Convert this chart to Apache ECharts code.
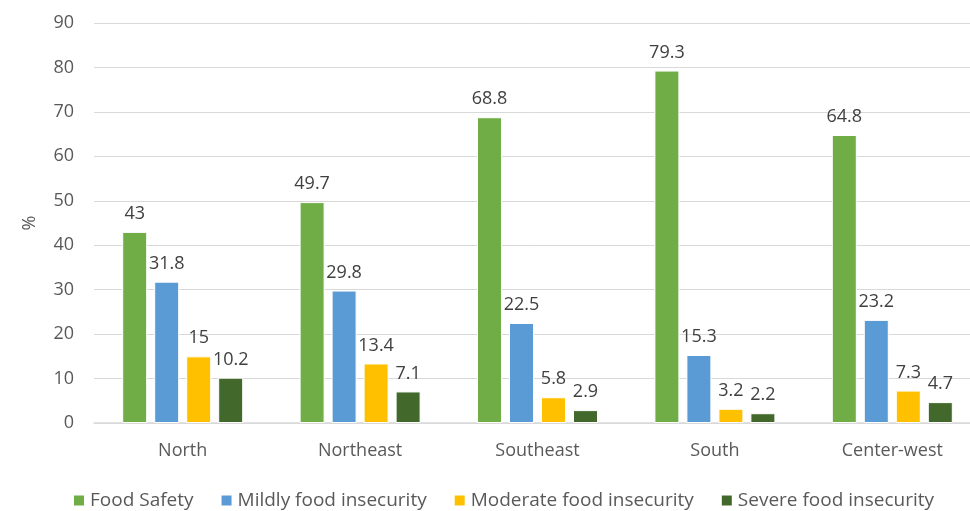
<!DOCTYPE html>
<html>
<head>
<meta charset="utf-8">
<script src="https://cdn.jsdelivr.net/npm/echarts@6/dist/echarts.min.js"></script>
<style>
html, body { margin: 0; padding: 0; background: #fff; }
#chart { width: 970px; height: 511px; }
</style>
</head>
<body>
<div id="chart"></div>
<script>
var regions = ['North', 'Northeast', 'Southeast', 'South', 'Center-west'];
var foodSafety = [43, 49.7, 68.8, 79.3, 64.8];
var mildly = [31.8, 29.8, 22.5, 15.3, 23.2];
var moderate = [15, 13.4, 5.8, 3.2, 7.3];
var severe = [10.2, 7.1, 2.9, 2.2, 4.7];
var seriesNames = ['Food Safety', 'Mildly food insecurity', 'Moderate food insecurity', 'Severe food insecurity'];
var colors = ['#70AD47', '#5B9BD5', '#FFC000', '#43682B'];

var font = '"Open Sans", sans-serif';

function bar(name, data, color) {
    return {
        name: name,
        type: 'bar',
        data: data,
        barWidth: 25,
        barGap: '28%',
        itemStyle: { color: color, borderColor: '#fff', borderWidth: 1 },
        label: {
            show: true,
            position: 'top',
            distance: 9,
            color: '#404040',
            fontSize: 18,
            fontFamily: font
        }
    };
}

var chart = echarts.init(document.getElementById('chart'));
chart.setOption({
    animation: false,
    color: colors,
    grid: { left: 94, width: 887, top: 23, height: 400, outerBoundsMode: 'none', containLabel: false },
    legend: {
        left: 67,
        top: 486,
        icon: 'rect',
        itemWidth: 12,
        itemHeight: 12,
        itemGap: 26,
        textStyle: { color: '#595959', fontSize: 19, fontFamily: font },
        data: seriesNames
    },
    xAxis: {
        type: 'category',
        data: regions,
        axisLine: { lineStyle: { color: '#d9d9d9', width: 1.5 } },
        axisTick: { show: false },
        axisLabel: { color: '#595959', fontSize: 18, fontFamily: font, margin: 19 }
    },
    yAxis: {
        type: 'value',
        min: 0,
        max: 90,
        interval: 10,
        name: '%',
        nameLocation: 'middle',
        nameGap: 55,
        nameTextStyle: { color: '#595959', fontSize: 18, fontFamily: font },
        axisLine: { show: false },
        axisTick: { show: false },
        axisLabel: { color: '#595959', fontSize: 18, fontFamily: font, margin: 20 },
        splitLine: { lineStyle: { color: '#d9d9d9', width: 1 } }
    },
    series: [
        bar(seriesNames[0], foodSafety, colors[0]),
        bar(seriesNames[1], mildly, colors[1]),
        bar(seriesNames[2], moderate, colors[2]),
        bar(seriesNames[3], severe, colors[3])
    ]
});
</script>
</body>
</html>
